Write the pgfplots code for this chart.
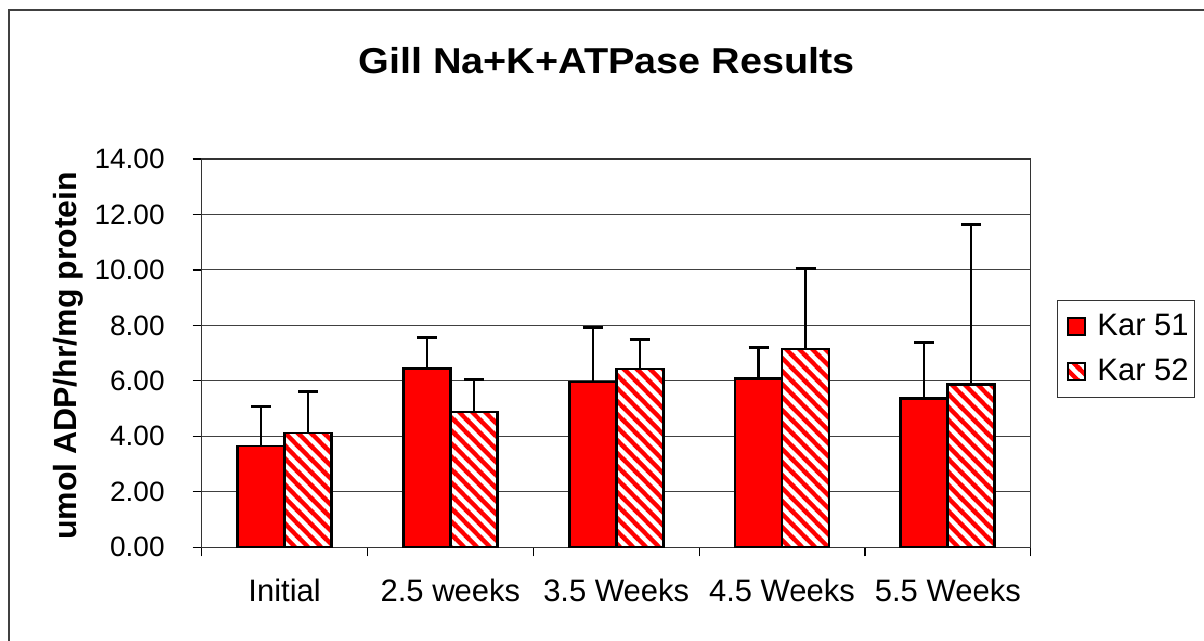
\documentclass[border=0pt]{standalone}
\usepackage{fontspec}
\setmainfont{Liberation Sans}
\newfontfamily\wideboldfont[FakeStretch=1.1]{Liberation Sans}
\usepackage{pgfplots}
\pgfplotsset{compat=1.18}
\usetikzlibrary{patterns.meta}

% red diagonal stripes on white (Kar 52)
\tikzdeclarepattern{
  name=kstripes,
  type=uncolored,
  bottom left={(0pt,0pt)},
  top right={(6.5pt,6.5pt)},
  tile size={(6.5pt,6.5pt)},
  code={
    \draw[line width=2.2pt] (-1pt,7.5pt) -- (7.5pt,-1pt);
    \draw[line width=2.2pt] (-1.5pt,1.5pt) -- (1.5pt,-1.5pt);
    \draw[line width=2.2pt] (5pt,8pt) -- (8pt,5pt);
  }
}

\begin{document}
\begin{tikzpicture}
\useasboundingbox (0pt,0pt) rectangle (602pt,320.5pt);
\draw[black!75, line width=0.7pt] (4.5pt,0pt) -- (4.5pt,315.5pt) -- (602pt,315.5pt);
\begin{axis}[
    at={(100.85pt,46.85pt)}, anchor=south west,
    scale only axis, width=414.5pt, height=194.15pt,
    ybar=0pt, bar width=23.5pt,
    xmin=-0.5, xmax=4.5,
    ymin=0, ymax=14,
    xtick={0,1,2,3,4},
    xticklabels={Initial, 2.5 weeks, 3.5 Weeks, 4.5 Weeks, 5.5 Weeks},
    minor xtick={-0.5,0.5,1.5,2.5,3.5,4.5},
    ytick={0,2,...,14},
    tick pos=left, tick align=outside,
    major x tick style={draw=none},
    minor x tick style={black, line width=0.6pt},
    ytick style={black, line width=0.6pt},
    major tick length=4.5pt, minor tick length=4.5pt,
    ymajorgrids,
    major grid style={black!75, line width=0.5pt},
    axis line style={black!80, line width=0.7pt},
    /pgf/number format/.cd, fixed, fixed zerofill, precision=2, assume math mode=true,
    /pgfplots/.cd,
    yticklabel style={inner sep=0pt, anchor=east, xshift=-13.85pt, font=\fontsize{14}{17}\selectfont},
    xticklabel style={inner sep=0pt, anchor=base, yshift=-22.6pt, font=\fontsize{15.5}{18}\selectfont},
    title={Gill Na+K+ATPase Results},
    title style={at={(axis description cs:0.4885,1.190)}, anchor=base, inner sep=0pt,
        font=\fontsize{18}{21}\selectfont\wideboldfont\bfseries},
    ylabel={umol ADP/hr/mg protein},
    ylabel style={at={(axis description cs:-0.1607,0.4927)}, anchor=center,
        font=\fontsize{16}{19}\selectfont\bfseries},
    legend style={at={(axis description cs:1.0317,0.637)}, anchor=north west,
        draw=black!80, line width=0.6pt, inner xsep=1pt, inner ysep=5pt,
        row sep=6pt, font=\fontsize{15.5}{18}\selectfont,
        nodes={inner sep=2pt}},
    legend cell align=left,
    legend image code/.code={
        \draw[#1, line width=0.9pt] (0pt,-4.25pt) rectangle (8.5pt,4.25pt);
        \path (-3.5pt,0pt) (12pt,0pt);},
    error bars/y dir=plus, error bars/y explicit,
    error bars/error mark options={rotate=90, mark size=5pt, line width=1.5pt, black},
    error bars/error bar style={line width=1.1pt, black},
]
\addplot[draw=black, line width=1.4pt, fill=red] coordinates {
    (0,3.65) +- (0,1.42)
    (1,6.44) +- (0,1.12)
    (2,5.96) +- (0,1.96)
    (3,6.08) +- (0,1.12)
    (4,5.37) +- (0,2.02)
};
\addplot[draw=black, line width=1.4pt, fill=white,
    postaction={pattern=kstripes, pattern color=red}] coordinates {
    (0,4.12) +- (0,1.48)
    (1,4.88) +- (0,1.18)
    (2,6.43) +- (0,1.07)
    (3,7.15) +- (0,2.89)
    (4,5.88) +- (0,5.77)
};
\legend{Kar 51, Kar 52}
\end{axis}
\end{tikzpicture}
\end{document}
